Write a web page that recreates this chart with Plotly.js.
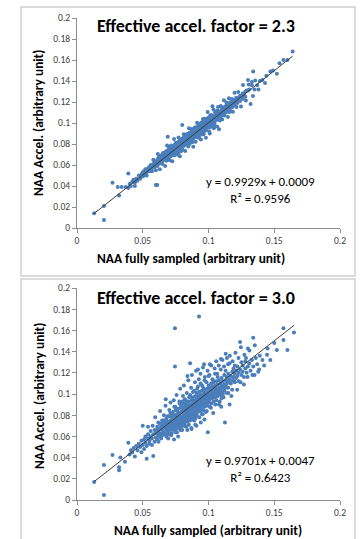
<!DOCTYPE html>
<html><head><meta charset="utf-8">
<script src="https://cdn.plot.ly/plotly-3.0.1.min.js"></script>
<style>html,body{margin:0;padding:0;background:#fff;}#chart{width:360px;height:539px;}</style>
</head><body><div id="chart"></div><script>
const panelTitles = ['Effective accel. factor = 2.3', 'Effective accel. factor = 3.0'];
const equations = ['y = 0.9929x + 0.0009', 'y = 0.9701x + 0.0047'];
const rSquared = ['R\u00b2 = 0.9596', 'R\u00b2 = 0.6423'];
const slopes = [0.9929, 0.9701];
const intercepts = [0.0009, 0.0047];
const trendRange = [[0.013, 0.164], [0.013, 0.165]];
const xTitle = 'NAA fully sampled (arbitrary unit)';
const yTitle = 'NAA Accel. (arbitrary unit)';
const xTickVals = [0, 0.05, 0.1, 0.15, 0.2];
const xTickText = ['0', '0.05', '0.1', '0.15', '0.2'];
const yTickVals = [0, 0.02, 0.04, 0.06, 0.08, 0.1, 0.12, 0.14, 0.16, 0.18, 0.2];
const yTickText = ['0', '0.02', '0.04', '0.06', '0.08', '0.1', '0.12', '0.14', '0.16', '0.18', '0.2'];

// [NAA fully sampled, NAA accelerated] – factor 2.3
const pointsFactor23 = [
[.013,.014],[.0205,.0076],[.0205,.021],[.027,.043],[.031,.039],[.034,.039],[.032,.031],[.037,.039],[.039,.038],[.039,.052],[.041,.040],[.044,.040],[.043,.045],[.053,.053],[.060,.041],[.061,.041],
[.040,.042],[.042,.044],[.043,.046],[.044,.043],[.045,.047],[.046,.045],[.047,.050],[.048,.047],[.049,.051],[.050,.049],
[.050,.053],[.051,.050],[.051,.054],[.052,.052],[.052,.056],[.053,.050],[.054,.055],[.054,.057],[.055,.054],[.055,.058],[.056,.055],[.056,.060],[.057,.057],[.057,.054],[.058,.059],[.058,.061],[.059,.058],[.059,.063],[.060,.060],
[.060,.063],[.061,.059],[.061,.062],[.061,.065],[.062,.061],[.062,.064],[.062,.067],[.063,.062],[.063,.065],[.063,.068],[.064,.063],[.064,.066],[.064,.069],[.065,.064],[.065,.067],[.065,.061],[.065,.070],[.066,.066],[.066,.068],[.066,.071],[.067,.065],[.067,.069],[.067,.072],[.068,.067],[.068,.070],[.068,.073],[.068,.064],[.069,.069],[.069,.071],[.069,.074],[.069,.087],[.070,.068],[.070,.071],[.070,.074],[.070,.077],
[.071,.070],[.071,.073],[.071,.076],[.071,.068],[.072,.072],[.072,.074],[.072,.077],[.072,.069],[.073,.072],[.073,.075],[.073,.078],[.073,.070],[.074,.074],[.074,.076],[.074,.079],[.074,.071],[.075,.075],[.075,.077],[.075,.080],[.075,.072],[.076,.075],[.076,.078],[.076,.081],[.076,.073],[.077,.077],[.077,.079],[.077,.082],[.077,.074],[.078,.078],[.078,.080],[.078,.083],[.078,.075],[.079,.079],[.079,.081],[.079,.084],[.079,.076],[.079,.073],[.080,.080],[.080,.082],[.080,.085],[.080,.077],[.080,.098],[.0765,.0765],[.0745,.0735],[.0785,.0815],
[.081,.081],[.081,.083],[.081,.086],[.081,.078],[.081,.080],[.082,.082],[.082,.084],[.082,.087],[.082,.079],[.082,.081],[.083,.083],[.083,.085],[.083,.088],[.083,.080],[.083,.082],[.084,.084],[.084,.086],[.084,.089],[.084,.081],[.084,.083],[.085,.085],[.085,.087],[.085,.090],[.085,.082],[.085,.079],[.086,.086],[.086,.088],[.086,.091],[.086,.083],[.086,.085],[.087,.087],[.087,.089],[.087,.092],[.087,.084],[.087,.086],[.088,.088],[.088,.090],[.088,.093],[.088,.085],[.088,.082],[.089,.089],[.089,.091],[.089,.094],[.089,.086],[.089,.088],[.090,.090],[.090,.092],[.090,.095],[.090,.087],[.090,.089],[.0815,.0845],[.0825,.0805],[.0835,.0865],[.0845,.0835],[.0855,.0885],[.0865,.0845],[.0875,.0895],[.0885,.0875],[.0895,.0925],[.0865,.0815],
[.091,.091],[.091,.093],[.091,.096],[.091,.088],[.091,.090],[.092,.092],[.092,.094],[.092,.097],[.092,.089],[.092,.086],[.093,.093],[.093,.095],[.093,.098],[.093,.090],[.093,.092],[.094,.094],[.094,.096],[.094,.099],[.094,.091],[.094,.093],[.095,.095],[.095,.097],[.095,.100],[.095,.092],[.095,.089],[.096,.096],[.096,.098],[.096,.101],[.096,.093],[.096,.095],[.097,.097],[.097,.099],[.097,.102],[.097,.094],[.097,.104],[.098,.098],[.098,.100],[.098,.095],[.098,.086],[.099,.099],[.099,.101],[.099,.096],[.099,.104],[.100,.100],[.100,.102],[.100,.097],[.100,.105],[.0915,.0945],[.0925,.0905],[.0935,.0965],[.0945,.0925],[.0955,.0985],[.0965,.0945],[.0975,.1005],[.0985,.0965],
[.101,.101],[.101,.103],[.101,.098],[.101,.090],[.102,.102],[.102,.104],[.102,.099],[.102,.107],[.103,.103],[.103,.105],[.103,.100],[.103,.116],[.104,.104],[.104,.106],[.104,.101],[.104,.095],[.105,.105],[.105,.107],[.105,.102],[.105,.110],[.106,.106],[.106,.108],[.106,.103],[.107,.107],[.107,.109],[.107,.104],[.107,.112],[.108,.108],[.108,.110],[.108,.105],[.108,.094],[.109,.109],[.109,.111],[.109,.106],[.110,.110],[.110,.112],[.110,.107],[.110,.115],[.1055,.1085],[.1065,.1045],
[.111,.111],[.111,.114],[.111,.108],[.112,.112],[.112,.115],[.112,.109],[.113,.113],[.113,.116],[.113,.110],[.114,.114],[.114,.117],[.114,.111],[.115,.115],[.115,.118],[.115,.112],[.116,.116],[.116,.119],[.116,.113],[.117,.117],[.117,.120],[.118,.118],[.118,.115],[.119,.119],[.119,.122],[.120,.120],[.120,.117],[.1155,.1105],
[.121,.121],[.121,.124],[.122,.122],[.122,.119],[.123,.124],[.124,.126],[.124,.121],[.125,.125],[.126,.128],[.126,.123],[.127,.127],[.128,.130],[.128,.125],[.129,.131],[.130,.131],[.130,.141],[.131,.132],[.132,.118],[.133,.136],[.134,.149],[.133,.139],[.135,.132],[.138,.132],[.137,.136],[.139,.140],[.141,.141],[.143,.138],
[.144,.145],[.147,.149],[.149,.150],[.152,.147],[.154,.157],[.157,.160],[.160,.160],[.164,.168],
[.058,.065],[.060,.055],[.0615,.0705],[.063,.056],[.0655,.0715],[.067,.059],[.0685,.0785],[.0705,.0645],[.0715,.0785],[.0725,.0635],[.0738,.0848],[.0742,.0692],[.0752,.0812],[.0768,.0698],[.0772,.0862],[.0783,.0683],[.0791,.0841],[.0804,.0744],[.0812,.0892],[.0823,.0733],[.0834,.0894],[.0846,.0776],[.0851,.0951],[.0862,.0812],[.0873,.0943],[.0884,.0774],[.0896,.0956],[.0902,.0822],[.0913,.1003],[.0927,.0867],[.0931,.0981],[.0942,.0842],[.0958,.1038],[.0963,.0893],[.0977,.1037],[.0981,.0931],[.0994,.1104],[.1006,.0916],[.1013,.1073],[.1027,.0967],[.1038,.1128],[.1044,.0964],[.1059,.1109],[.1066,.0966],[.1072,.1152],[.1085,.1025],[.1093,.1163],[.1104,.1034],[.1117,.1217],[.1122,.1072],[.1136,.1196],[.1148,.1058],[.1155,.1235],[.1169,.1109],[.1178,.1228],[.1186,.1106],[.1198,.1288],[.1213,.1153],[.1226,.1296],[.1247,.1157],[.1262,.1362],[.1284,.1214],[.1306,.1366],[.1338,.1258],[.1355,.1405],
[.0855,.0905],[.0875,.0835],[.0905,.0955],[.0925,.0875],[.0945,.1005],[.0965,.0915],[.0985,.1035],[.1005,.0955],[.1025,.1075],[.1045,.0995],[.0795,.0845],[.0775,.0725],[.0755,.0805],[.0735,.0695],[.0715,.0765],[.0695,.0655],[.0675,.0725]
];

// [NAA fully sampled, NAA accelerated] – factor 3.0
const pointsFactor30 = [
[.013,.017],[.0205,.0047],[.0205,.033],[.027,.0425],[.032,.031],[.032,.028],[.033,.040],[.0365,.036],[.039,.054],[.040,.043],[.041,.047],[.042,.045],[.043,.049],[.044,.041],[.045,.051],[.046,.047],[.047,.053],[.048,.050],[.049,.056],[.049,.045],
[.050,.070],[.050,.052],[.051,.057],[.051,.048],[.052,.054],[.052,.060],[.053,.039],[.053,.051],[.054,.058],[.054,.062],[.055,.053],[.055,.056],[.056,.060],[.056,.065],[.057,.052],[.057,.058],[.058,.0415],[.058,.062],[.059,.055],[.059,.066],[.060,.059],[.060,.063],
[.061,.057],[.061,.066],[.061,.069],[.062,.061],[.062,.064],[.062,.055],[.063,.067],[.063,.060],[.063,.072],[.064,.063],[.064,.069],[.064,.058],[.065,.066],[.065,.072],[.065,.061],[.066,.064],[.066,.070],[.066,.075],[.067,.062],[.067,.068],[.067,.073],[.0675,.095],[.068,.066],[.068,.071],[.068,.077],[.068,.060],[.069,.069],[.069,.074],[.069,.064],[.070,.067],[.070,.072],[.070,.079],[.070,.062],
[.071,.070],[.071,.075],[.071,.066],[.071,.082],[.072,.068],[.072,.073],[.072,.078],[.072,.063],[.073,.071],[.073,.076],[.073,.083],[.073,.066],[.074,.069],[.074,.074],[.074,.080],[.074,.088],[.0745,.162],[.0745,.126],[.075,.072],[.075,.077],[.075,.067],[.075,.085],[.076,.070],[.076,.075],[.076,.081],[.076,.064],[.077,.073],[.077,.078],[.077,.086],[.077,.068],[.078,.071],[.078,.076],[.078,.082],[.078,.091],[.079,.074],[.079,.079],[.079,.069],[.079,.087],[.080,.072],[.080,.077],[.080,.083],[.080,.066],[.080,.093],
[.081,.075],[.081,.080],[.081,.086],[.081,.070],[.081,.091],[.082,.078],[.082,.083],[.082,.088],[.082,.073],[.082,.095],[.083,.076],[.083,.081],[.083,.086],[.083,.091],[.083,.069],[.084,.079],[.084,.084],[.084,.089],[.084,.074],[.084,.117],[.085,.077],[.085,.082],[.085,.087],[.085,.093],[.085,.071],[.086,.080],[.086,.085],[.086,.090],[.086,.075],[.086,.129],[.086,.099],[.087,.083],[.087,.088],[.087,.094],[.087,.078],[.087,.068],[.088,.081],[.088,.086],[.088,.091],[.088,.097],[.088,.076],[.089,.084],[.089,.089],[.089,.094],[.089,.079],[.089,.103],[.090,.082],[.090,.087],[.090,.092],[.090,.098],[.090,.077],[.090,.071],
[.091,.085],[.091,.090],[.091,.095],[.091,.080],[.091,.101],[.092,.088],[.092,.093],[.092,.098],[.092,.083],[.092,.123],[.092,.107],[.0928,.173],[.093,.086],[.093,.091],[.093,.096],[.093,.102],[.093,.078],[.094,.089],[.094,.094],[.094,.099],[.094,.084],[.094,.110],[.095,.087],[.095,.092],[.095,.097],[.095,.103],[.095,.081],[.096,.090],[.096,.095],[.096,.100],[.096,.106],[.096,.085],[.0966,.128],[.097,.093],[.097,.098],[.097,.104],[.097,.088],[.097,.113],[.098,.091],[.098,.096],[.098,.101],[.098,.083],[.099,.094],[.099,.099],[.099,.105],[.099,.089],[.0995,.064],[.100,.097],[.100,.102],[.100,.108],[.100,.092],[.100,.117],
[.101,.095],[.101,.100],[.101,.106],[.101,.128],[.101,.088],[.102,.098],[.102,.103],[.102,.110],[.102,.091],[.103,.101],[.103,.107],[.103,.096],[.103,.114],[.104,.099],[.104,.104],[.104,.111],[.104,.093],[.105,.102],[.105,.108],[.105,.097],[.105,.119],[.106,.100],[.106,.105],[.106,.112],[.106,.094],[.107,.103],[.107,.109],[.107,.098],[.107,.116],[.108,.101],[.108,.106],[.108,.113],[.108,.090],[.109,.104],[.109,.110],[.109,.099],[.1095,.133],[.110,.102],[.110,.108],[.110,.115],[.110,.096],
[.111,.106],[.111,.112],[.111,.100],[.112,.109],[.112,.118],[.112,.103],[.1125,.073],[.113,.107],[.113,.113],[.113,.122],[.114,.110],[.114,.116],[.114,.134],[.114,.101],[.115,.112],[.115,.119],[.115,.106],[.116,.090],[.116,.114],[.116,.129],[.117,.110],[.117,.117],[.118,.113],[.118,.121],[.118,.104],[.119,.116],[.119,.124],[.120,.111],[.120,.119],[.120,.127],
[.121,.115],[.121,.122],[.122,.117],[.122,.126],[.123,.120],[.123,.112],[.124,.149],[.124,.123],[.125,.118],[.125,.130],[.126,.121],[.126,.127],[.127,.116],[.128,.124],[.128,.131],[.1285,.134],[.129,.120],[.130,.143],[.130,.126],[.131,.129],[.132,.122],[.133,.132],[.134,.153],[.134,.126],[.135,.118],[.136,.134],[.137,.128],[.1385,.123],[.139,.136],[.141,.132],
[.1445,.137],[.147,.132],[.145,.143],[.152,.1415],[.157,.151],[.157,.162],[.160,.1415],[.165,.158],[.150,.148],
[.054,.069],[.0575,.070],[.0595,.078],[.0618,.073],[.0632,.084],[.0647,.075],[.0661,.080],[.0673,.089],[.0689,.079],[.0702,.085],[.0711,.092],[.0724,.081],[.0736,.094],[.0748,.088],[.0757,.099],[.0763,.084],[.0779,.093],[.0785,.105],[.0792,.089],[.0806,.098],[.0813,.108],[.0827,.094],[.0835,.101],[.0846,.113],[.0853,.097],[.0868,.106],[.0874,.118],[.0882,.102],[.0897,.111],[.0905,.122],[.0914,.105],[.0926,.114],[.0939,.119],[.0951,.108],[.0958,.125],[.0972,.116],[.0985,.111],[.0993,.122],[.1008,.118],[.1021,.127],[.1034,.113],[.1047,.124],[.1059,.131],[.1066,.119],[.1078,.127],[.1093,.123],[.1106,.132],[.1118,.126],[.1131,.138],[.1149,.128],[.1162,.136],[.1183,.131],[.1205,.139],[.1228,.134],[.1246,.144],[.1273,.137],[.1311,.141],[.1352,.146],
[.0693,.058],[.0716,.061],[.0738,.057],[.0751,.064],[.0769,.060],[.0787,.066],[.0808,.074],[.0821,.070],[.0839,.066],[.0857,.079],[.0871,.067],[.0892,.075],[.0908,.070],[.0923,.085],[.0941,.073],[.0956,.081],[.0969,.076],[.0987,.084],[.1002,.093],[.1018,.087],[.1036,.082],[.1052,.090],[.1068,.100],[.1085,.093],[.1097,.088],[.1114,.097],[.1132,.106],[.1151,.101],[.1174,.098],[.1196,.112],[.1218,.104],[.1243,.111],[.1269,.109],[.1297,.116],[.1334,.118],[.1378,.121],[.1423,.127],
[.0815,.0845],[.0835,.0795],[.0855,.0885],[.0875,.0815],[.0895,.0925],[.0915,.0865],[.0935,.0975],[.0955,.0905],[.0975,.1015],[.0995,.0945],[.1015,.1045],[.1035,.0985],[.0795,.0835],[.0775,.0745],[.0755,.0795],[.0735,.0705],[.0715,.0745],[.0695,.0675]
];

const W = 360, H = 539;
const px = v => v / W;
const py = v => 1 - v / H;
const font = 'Carlito, Lato, "Open Sans", sans-serif';
const dataSets = [pointsFactor23, pointsFactor30];
const suffix = ['', '2'];

const traces = [];
dataSets.forEach((pts, i) => {
  traces.push({
    type: 'scatter', mode: 'markers',
    x: pts.map(p => p[0]), y: pts.map(p => p[1]),
    xaxis: 'x' + suffix[i], yaxis: 'y' + suffix[i],
    marker: {color: '#4a7ebb', size: 4, line: {width: 0}},
    showlegend: false, hoverinfo: 'x+y'
  });
  const tx = trendRange[i];
  traces.push({
    type: 'scatter', mode: 'lines',
    x: tx, y: tx.map(v => slopes[i] * v + intercepts[i]),
    xaxis: 'x' + suffix[i], yaxis: 'y' + suffix[i],
    line: {color: '#3a3a3a', width: 1},
    showlegend: false, hoverinfo: 'skip'
  });
});

const axisBase = {
  range: [0, 0.2], showgrid: false, zeroline: false,
  showline: true, linecolor: '#8c8c8c', linewidth: 1,
  ticks: 'outside', ticklen: 4, tickcolor: '#8c8c8c',
  tickfont: {family: font, size: 9.5, color: '#404040'}, fixedrange: true
};
const xAxis = anchor => Object.assign({}, axisBase, {
  domain: [px(77), px(340)], anchor: anchor, tickvals: xTickVals, ticktext: xTickText
});
const yAxis = (anchor, top, bottom) => Object.assign({}, axisBase, {
  domain: [py(bottom), py(top)], anchor: anchor, tickvals: yTickVals, ticktext: yTickText
});

const panels = [
  {top: 18, bottom: 228, titleY: 26, eqY: 190, xTitleX: 191, xTitleY: 258, yTitleY: 123},
  {top: 288, bottom: 500, titleY: 298, eqY: 469, xTitleX: 208, xTitleY: 530, yTitleY: 396}
];

const annotations = [];
panels.forEach((p, i) => {
  annotations.push({xref: 'paper', yref: 'paper', x: px(95), y: py(p.titleY), xanchor: 'left', yanchor: 'middle',
    text: '<b>' + panelTitles[i] + '</b>', showarrow: false, font: {family: font, size: 18, color: '#000'}});
  annotations.push({xref: 'paper', yref: 'paper', x: px(260), y: py(p.eqY), xanchor: 'center', yanchor: 'middle', align: 'center',
    text: equations[i] + '<br>' + rSquared[i], showarrow: false, font: {family: font, size: 13, color: '#000'}});
  annotations.push({xref: 'paper', yref: 'paper', x: px(p.xTitleX), y: py(p.xTitleY), xanchor: 'center', yanchor: 'middle',
    text: '<b>' + xTitle + '</b>', showarrow: false, font: {family: font, size: 13.4, color: '#000'}});
  annotations.push({xref: 'paper', yref: 'paper', x: px(39), y: py(p.yTitleY), xanchor: 'center', yanchor: 'middle',
    text: '<b>' + yTitle + '</b>', textangle: -90, showarrow: false, font: {family: font, size: 13.4, color: '#000'}});
});

const shapes = [
  {type: 'rect', xref: 'paper', yref: 'paper', x0: px(21), x1: px(355), y0: py(276), y1: py(7), line: {color: '#cfcfcf', width: 1.5}},
  {type: 'rect', xref: 'paper', yref: 'paper', x0: px(21), x1: px(355), y0: py(548), y1: py(279), line: {color: '#cfcfcf', width: 1.5}}
];

const layout = {
  width: W, height: H, margin: {l: 0, r: 0, t: 0, b: 0},
  paper_bgcolor: '#fff', plot_bgcolor: 'rgba(0,0,0,0)',
  xaxis: xAxis('y'), yaxis: yAxis('x', panels[0].top, panels[0].bottom),
  xaxis2: xAxis('y2'), yaxis2: yAxis('x2', panels[1].top, panels[1].bottom),
  annotations: annotations, shapes: shapes, showlegend: false
};

Plotly.newPlot('chart', traces, layout, {displayModeBar: false, staticPlot: true});
</script></body></html>
